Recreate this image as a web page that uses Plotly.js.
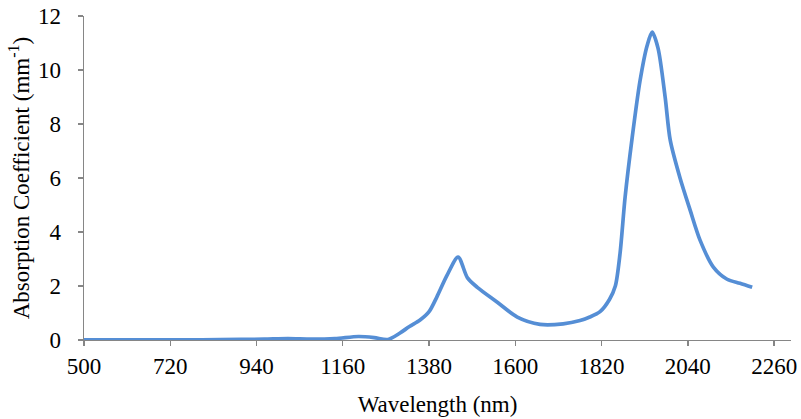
<!DOCTYPE html>
<html>
<head>
<meta charset="utf-8">
<script src="https://cdn.plot.ly/plotly-3.0.1.min.js"></script>
<style>html,body{margin:0;padding:0;background:#fff;}#chart{width:801px;height:419px;}</style>
</head>
<body>
<div id="chart"></div>
<script>
// Wavelength (nm)
const wavelength = [500,600,700,800,900,960,1020,1080,1140,1200,1240,1275,1305,1330,1357,1380,1400,1426,1454,1478,1503,1554,1605,1663,1722,1765,1790,1816,1840,1855,1867,1880,1898,1918,1936,1949,1964,1982,1995,2020,2046,2071,2105,2140,2173,2204];
// Absorption coefficient (mm^-1)
const absorption = [0.005,0.005,0.005,0.01,0.02,0.03,0.05,0.03,0.05,0.13,0.09,0.02,0.25,0.5,0.74,1.05,1.6,2.4,3.07,2.3,1.95,1.4,0.85,0.58,0.6,0.72,0.85,1.05,1.5,2.0,3.2,5.3,7.5,9.6,10.9,11.4,10.8,9.0,7.4,6.0,4.8,3.7,2.7,2.25,2.1,1.95];
const xTicks = [500,720,940,1160,1380,1600,1820,2040,2260];
const yTicks = [0,2,4,6,8,10,12];

const font = {family: 'Liberation Serif, Times New Roman, serif', size: 23, color: '#000'};

Plotly.newPlot('chart', [{
  x: wavelength,
  y: absorption,
  type: 'scatter',
  mode: 'lines',
  line: {color: '#558ED5', width: 3.7, shape: 'spline', smoothing: 0.8},
  hoverinfo: 'skip'
}], {
  width: 801, height: 419,
  margin: {l: 84, r: 10, t: 16, b: 79},
  paper_bgcolor: '#fff', plot_bgcolor: '#fff',
  showlegend: false,
  font: font,
  xaxis: {
    range: [500, 2303],
    tickvals: xTicks,
    ticktext: xTicks.map(String),
    showgrid: false, zeroline: false,
    showline: true, linecolor: '#868686', linewidth: 1.3,
    ticks: 'outside', ticklen: 5, tickcolor: '#868686', tickwidth: 1.3,
    tickfont: font,
    title: {text: 'Wavelength (nm)', font: font, standoff: 18}
  },
  yaxis: {
    range: [0, 12],
    tickvals: yTicks,
    showgrid: false, zeroline: false,
    showline: true, linecolor: '#868686', linewidth: 1.3,
    ticks: 'outside', ticklen: 5, tickcolor: '#868686', tickwidth: 1.3,
    tickfont: font,
    ticklabelstandoff: 12,
    title: {text: 'Absorption Coefficient (mm<sup>-1</sup>)', font: font, standoff: 2}
  }
}, {staticPlot: true});
</script>
</body>
</html>
